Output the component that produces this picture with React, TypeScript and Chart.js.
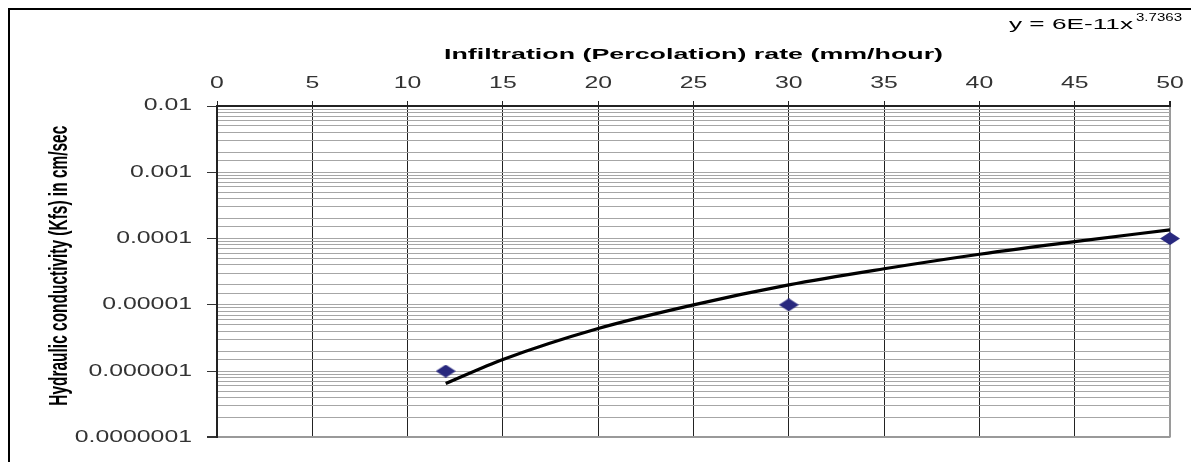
import React, { useEffect, useRef } from "react";
import { Chart, registerables } from "chart.js";

Chart.register(...registerables);

// ---- data ----
const OBS_X = [12, 30, 50];
const OBS_Y = [0.000001, 0.00001, 0.0001];
const TREND_X = [12, 15, 20, 25, 30, 35, 40, 45, 50];
const TREND_Y = [6.5e-7, 1.5e-6, 4.4e-6, 1.0e-5, 2.0e-5, 3.5e-5, 5.8e-5, 9.0e-5, 1.35e-4];
const X_MIN = 0;
const X_MAX = 50;
const X_STEP = 5;
const Y_MIN = 0.0000001;
const Y_MAX = 0.01;
const Y_TICK_LABELS = ["0.0000001", "0.000001", "0.00001", "0.0001", "0.001", "0.01"];
const X_TITLE = "Infiltration (Percolation) rate (mm/hour)";
const Y_TITLE = "Hydraulic conductivity (Kfs) in cm/sec";
const EQ_MAIN = "y = 6E-11x";
const EQ_EXP = "3.7363";

// horizontal stretch of the text (the reference is a widened image)
const STRETCH = 1.55;
const TARGET_WIDTH: Record<string, number> = {
  [X_TITLE]: 499,
  [Y_TITLE]: 280,
  [EQ_MAIN]: 124,
  [EQ_EXP]: 46,
};
const ALONG_SHIFT: Record<string, number> = {
  [Y_TITLE]: 6,
};

const stretchPlugin = {
  id: "stretchText",
  beforeDraw(chart: any) {
    const ctx = chart.ctx as any;
    if (ctx.__origFill) return;
    const orig = ctx.fillText.bind(ctx);
    ctx.__origFill = orig;
    ctx.fillText = function (text: string, x: number, y: number) {
      const t = ctx.getTransform();
      const rotated = Math.abs(t.b) > 0.5;
      const key = String(text);
      const w = ctx.measureText(text).width || 1;
      const target = TARGET_WIDTH[key];
      const sAlong = target ? target / w : rotated ? 1 : STRETCH;
      const sPerp = rotated ? 1.75 : 1;
      ctx.save();
      ctx.translate(x + (ALONG_SHIFT[key] || 0), y);
      ctx.scale(sAlong, sPerp);
      orig(text, 0, 0);
      ctx.restore();
    };
  },
};

const equationPlugin = {
  id: "equation",
  afterDraw(chart: any) {
    const ctx = chart.ctx;
    ctx.save();
    ctx.fillStyle = "#000";
    ctx.textBaseline = "alphabetic";
    ctx.textAlign = "left";
    ctx.font = "15px 'Liberation Sans', Arial, sans-serif";
    ctx.fillText(EQ_MAIN, 999, 19);
    ctx.font = "11px 'Liberation Sans', Arial, sans-serif";
    ctx.fillText(EQ_EXP, 1126, 11);
    ctx.restore();
  },
};

function makeDiamond() {
  const c = document.createElement("canvas");
  c.width = 20;
  c.height = 13;
  const g = c.getContext("2d")!;
  g.fillStyle = "#28287e";
  g.beginPath();
  g.moveTo(10, 0);
  g.lineTo(20, 6.5);
  g.lineTo(10, 13);
  g.lineTo(0, 6.5);
  g.closePath();
  g.fill();
  return c;
}

const isDecade = (v: number) => {
  const l = Math.log10(v);
  return Math.abs(l - Math.round(l)) < 1e-6;
};

export default function App() {
  const ref = useRef<HTMLCanvasElement>(null);

  useEffect(() => {
    document.documentElement.style.overflow = "hidden";
    const diamond = makeDiamond();
    const chart = new Chart(ref.current!, {
      type: "scatter",
      data: {
        datasets: [
          {
            label: "Observed",
            data: OBS_X.map((x, i) => ({ x, y: OBS_Y[i] })),
            pointStyle: diamond as any,
            pointRadius: 9,
            showLine: false,
            clip: false as any,
          },
          {
            label: "Trend",
            type: "line",
            data: TREND_X.map((x, i) => ({ x, y: TREND_Y[i] })),
            borderColor: "#000",
            borderWidth: 3.2,
            pointRadius: 0,
            cubicInterpolationMode: "monotone",
            fill: false,
          } as any,
        ],
      },
      options: {
        animation: false,
        responsive: true,
        maintainAspectRatio: false,
        layout: { padding: { left: 0, top: 0, right: 29, bottom: 13 } },
        plugins: {
          legend: { display: false },
          tooltip: { enabled: false },
        },
        scales: {
          x: {
            type: "linear",
            position: "top",
            min: X_MIN,
            max: X_MAX,
            afterFit: (s: any) => {
              s.height = 96;
            },
            ticks: {
              stepSize: X_STEP,
              padding: 8,
              color: "#333",
              font: { family: "'Liberation Sans', Arial, sans-serif", size: 16 },
            },
            grid: {
              color: (c: any) => (c.tick && c.tick.value === X_MAX ? "#9a9a9a" : "#222"),
              lineWidth: (c: any) => (c.tick && c.tick.value === X_MAX ? 2 : 1),
              tickLength: 5,
              tickColor: "#222",
            },
            border: { display: true, color: "#222", width: 2 },
            title: {
              display: true,
              text: X_TITLE,
              color: "#000",
              font: { family: "'Liberation Sans', Arial, sans-serif", size: 15, weight: "bold" },
              padding: { top: 36, bottom: 0 },
            },
          },
          y: {
            type: "logarithmic",
            min: Y_MIN,
            max: Y_MAX,
            afterFit: (s: any) => {
              s.width = 207;
            },
            ticks: {
              autoSkip: false,
              padding: 15,
              color: "#333",
              font: { family: "'Liberation Sans', Arial, sans-serif", size: 16 },
              callback: (v: any) => {
                const n = Number(v);
                if (!isDecade(n)) return "";
                const e = Math.round(Math.log10(n));
                return Y_TICK_LABELS[e + 7] ?? "";
              },
            },
            grid: {
              color: (c: any) => (c.tick && Math.abs(c.tick.value - Y_MIN) < 1e-12 ? "#999" : "#a6a6a6"),
              lineWidth: (c: any) => (c.tick && Math.abs(c.tick.value - Y_MIN) < 1e-12 ? 2 : 1),
              tickLength: 10,
              tickColor: (c: any) => (c.tick && isDecade(c.tick.value) ? "#333" : "rgba(0,0,0,0)"),
            },
            border: { display: true, color: "#222", width: 2 },
            title: {
              display: true,
              text: Y_TITLE,
              color: "#000",
              font: { family: "'Liberation Sans', Arial, sans-serif", size: 15, weight: "bold" },
              padding: { top: 41, bottom: 0 },
            },
          },
        },
      },
      plugins: [stretchPlugin, equationPlugin],
    });
    return () => chart.destroy();
  }, []);

  return (
    <div
      style={{
        borderTop: "2px solid #000",
        borderLeft: "2px solid #000",
        width: 1189,
        height: 452,
        boxSizing: "content-box",
      }}
    >
      <div style={{ position: "relative", width: 1189, height: 452 }}>
        <canvas ref={ref} />
      </div>
    </div>
  );
}
